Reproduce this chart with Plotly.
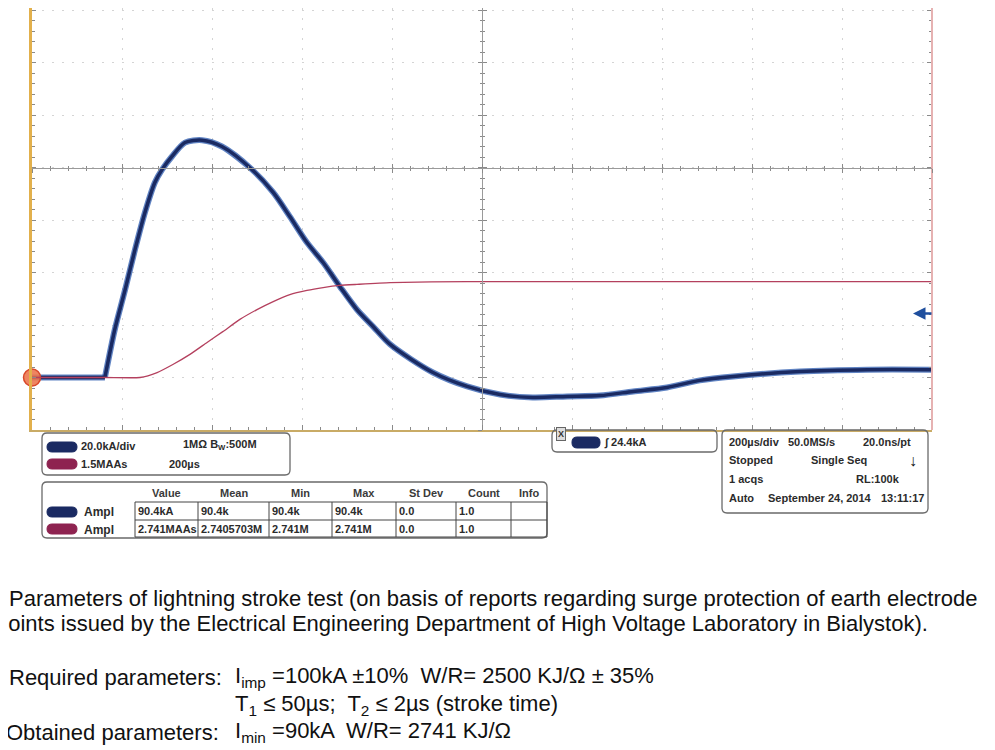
import plotly.graph_objects as go

# current trace (channel 1): time in us, current in kA
time_us = [0, 162, 184, 207, 229, 251, 273, 289, 311, 340, 378, 422, 489, 536, 573, 611,
           647, 684, 722, 758, 796, 891, 967, 1040, 1113, 1189, 1262, 1336, 1411, 1484,
           1558, 1707, 1856, 2000]
current_kA = [0, 0, 18.3, 33.5, 48.8, 62.9, 74.3, 79.2, 84.2, 89.5, 90.4, 88.0, 79.2, 70.5, 61.3, 51.4,
              43.8, 34.7, 25.9, 19.4, 12.6, 1.9, -3.4, -6.5, -7.6, -7.2, -6.9, -5.3, -3.8, -1.1,
              0.4, 2.3, 3.0, 3.0]
trigger_index = 1  # the stroke starts at the second sample

# charge trace (math channel), MAAs
charge_time_us = [0, 162, 240, 278, 313, 351, 389, 424, 462, 500, 536, 573, 611, 647, 684, 722, 796, 967, 2000]
charge_MAAs = [0, 0, 0, 0.14, 0.37, 0.66, 1.0, 1.31, 1.66, 1.94, 2.17, 2.37, 2.49, 2.57, 2.63, 2.66, 2.71, 2.74, 2.741]

trigger_level_kA = 24.4
kA_per_div = 20.0
MAAs_per_div = 1.5
us_per_div = 200

# scope panel texts
channel_rows = [("20.0kA/div", "1MΩ B<sub>W</sub>:500M"), ("1.5MAAs", "200µs")]
table_headers = ["Value", "Mean", "Min", "Max", "St Dev", "Count", "Info"]
table_rows = [
    ["90.4kA", "90.4k", "90.4k", "90.4k", "0.0", "1.0", ""],
    ["2.741MAAs", "2.7405703M", "2.741M", "2.741M", "0.0", "1.0", ""],
]
timebase_lines = [
    [("200µs/div", 728), ("50.0MS/s", 787), ("20.0ns/pt", 862)],
    [("Stopped", 728), ("Single Seq", 810)],
    [("1 acqs", 728), ("RL:100k", 855)],
    [("Auto", 728), ("September 24, 2014", 767), ("13:11:17", 880)],
]

BLUE = "#1a2a62"
BLUE_FUZZ = "#2d5cb0"
RED = "#b4405e"
TXT = "#2b2b2b"

# the page body adds 8px around the figure; positions below are page pixels
OFF = 8
L, R, B, T = 32, 932, 430, OFF
PLOT_H = B - T
y_range = [-1 * kA_per_div, -1 * kA_per_div + (PLOT_H / 52.5) * kA_per_div]
y2_range = [v * MAAs_per_div / kA_per_div for v in y_range]
x_range = [0, 10 * us_per_div]


def px_x(x):
    return (x - L) / (R - L)


def px_y(y):
    return (B - y) / PLOT_H


def rounded(x0, y0, x1, y1, r):
    pts = [("M", x0 + r, y0), ("L", x1 - r, y0), ("Q", x1, y0, x1, y0 + r), ("L", x1, y1 - r),
           ("Q", x1, y1, x1 - r, y1), ("L", x0 + r, y1), ("Q", x0, y1, x0, y1 - r),
           ("L", x0, y0 + r), ("Q", x0, y0, x0 + r, y0)]
    out = ""
    for p in pts:
        cmd, vals = p[0], p[1:]
        coords = []
        for i in range(0, len(vals), 2):
            coords.append(f"{px_x(vals[i]):.5f},{px_y(vals[i + 1]):.5f}")
        out += cmd + " ".join(coords) + " "
    return out + "Z"


fig = go.Figure()

# flat part before the trigger drawn straight, the pulse itself smoothed
pre_t, pre_i = time_us[:trigger_index + 1], current_kA[:trigger_index + 1]
post_t, post_i = time_us[trigger_index:], current_kA[trigger_index:]
for xs, ys, shp in [(pre_t, pre_i, "linear"), (post_t, post_i, "spline")]:
    fig.add_trace(go.Scatter(x=xs, y=ys, mode="lines", line=dict(color=BLUE_FUZZ, width=6, shape=shp, smoothing=0.8),
                             opacity=0.75, hoverinfo="skip", showlegend=False))
for xs, ys, shp in [(pre_t, pre_i, "linear"), (post_t, post_i, "spline")]:
    fig.add_trace(go.Scatter(x=xs, y=ys, mode="lines", line=dict(color=BLUE, width=3.5, shape=shp, smoothing=0.8),
                             name="Ampl", showlegend=False))
fig.add_trace(go.Scatter(x=charge_time_us, y=charge_MAAs, mode="lines", yaxis="y2",
                         line=dict(color=RED, width=1.3, shape="spline", smoothing=0.5), showlegend=False))
# ground level marker of channel 1
fig.add_trace(go.Scatter(x=[time_us[0]], y=[current_kA[0]], mode="markers", cliponaxis=False,
                         marker=dict(size=17, color="rgba(236,120,80,0.9)", line=dict(color="#d9482a", width=1.5)),
                         showlegend=False, hoverinfo="skip"))
# dummy traces so the cross-hair axes get drawn
for xa, ya in [("x2", "y"), ("x3", "y"), ("x", "y3"), ("x", "y4"), ("x", "y5")]:
    fig.add_trace(go.Scatter(x=[None], y=[None], xaxis=xa, yaxis=ya, showlegend=False))

tick_c = "#8a8a8a"
center_pos = (4 * kA_per_div - y_range[0]) / (y_range[1] - y_range[0])

common_x = dict(range=x_range, showticklabels=False, zeroline=False, tick0=0, dtick=us_per_div)
common_y = dict(range=y_range, showticklabels=False, zeroline=False, tick0=0, dtick=kA_per_div)

fig.update_layout(
    width=995, height=750,
    margin=dict(l=L - OFF, r=995 - (R - OFF), t=0, b=750 - (B - OFF)),
    paper_bgcolor="white", plot_bgcolor="white",
    font=dict(family="Liberation Sans, Arial, sans-serif", color=TXT),
    xaxis=dict(**common_x, showgrid=True, gridcolor="#d4d4d4", griddash="2px,8px", gridwidth=1,
               ticks="inside", ticklen=5, tickcolor=tick_c, showline=True, linecolor="#c9ab66", linewidth=2,
               minor=dict(dtick=us_per_div / 5, ticks="inside", ticklen=3, tickcolor=tick_c, showgrid=False)),
    yaxis=dict(**common_y, showgrid=True, gridcolor="#d4d4d4", griddash="2px,8px", gridwidth=1,
               ticks="inside", ticklen=4, tickcolor=tick_c, showline=True, linecolor="#e2b04c", linewidth=3,
               minor=dict(dtick=kA_per_div / 5, ticks="inside", ticklen=3, tickcolor=tick_c, showgrid=False)),
    yaxis2=dict(range=y2_range, overlaying="y", visible=False),
    xaxis2=dict(**common_x, overlaying="x", anchor="free", position=center_pos, side="bottom", showgrid=False,
                ticks="outside", ticklen=4, tickcolor=tick_c, showline=True, linecolor="#9a9a9a", linewidth=1,
                minor=dict(dtick=us_per_div / 5, ticks="outside", ticklen=2, tickcolor=tick_c)),
    xaxis3=dict(**common_x, overlaying="x", anchor="free", position=center_pos, side="bottom", showgrid=False,
                ticks="inside", ticklen=4, tickcolor=tick_c, showline=False,
                minor=dict(dtick=us_per_div / 5, ticks="inside", ticklen=2, tickcolor=tick_c)),
    yaxis3=dict(**common_y, overlaying="y", anchor="free", position=0.5, side="left", showgrid=False,
                ticks="outside", ticklen=4, tickcolor=tick_c, showline=True, linecolor="#9a9a9a", linewidth=1,
                minor=dict(dtick=kA_per_div / 5, ticks="outside", ticklen=2, tickcolor=tick_c)),
    yaxis4=dict(**common_y, overlaying="y", anchor="free", position=0.5, side="left", showgrid=False,
                ticks="inside", ticklen=4, tickcolor=tick_c, showline=False,
                minor=dict(dtick=kA_per_div / 5, ticks="inside", ticklen=2, tickcolor=tick_c)),
    yaxis5=dict(**common_y, overlaying="y", anchor="free", position=1, side="right", showgrid=False,
                ticks="inside", ticklen=4, tickcolor=tick_c, showline=True, linecolor="#e6b2b2", linewidth=2,
                minor=dict(dtick=kA_per_div / 5, ticks="inside", ticklen=2, tickcolor=tick_c)),
)

shapes = []
ann = []


def text(x, y, s, size=11, anchor="left", color=TXT, bold=True, family=None):
    ann.append(dict(x=px_x(x), y=px_y(y), xref="paper", yref="paper", text=f"<b>{s}</b>" if bold else s,
                    showarrow=False, xanchor=anchor, yanchor="middle",
                    font=dict(size=size, color=color, family=family or "Liberation Sans, Arial"), borderpad=0))


def pill(x0, y0, x1, y1, color):
    shapes.append(dict(type="path", path=rounded(x0, y0, x1, y1, 5), xref="paper", yref="paper",
                       fillcolor=color, line=dict(color=color, width=1), layer="above"))


def box(x0, y0, x1, y1):
    shapes.append(dict(type="path", path=rounded(x0, y0, x1, y1, 5), xref="paper", yref="paper",
                       line=dict(color="#6a6a6a", width=1.3)))


# channel box
box(42, 433, 290, 475)
pill(47, 442, 77, 452, BLUE)
pill(47, 459, 77, 469, "#8e2350")
text(80, 446, channel_rows[0][0])
text(182, 445, channel_rows[0][1])
text(80, 464, channel_rows[1][0])
text(168, 464, channel_rows[1][1])

# measurement table
box(42, 482, 547, 538)
col_x = [135, 198, 269, 332, 396, 456, 511, 547]
row_y = [502, 520, 537]
for i, h in enumerate(table_headers):
    text((col_x[i] + col_x[i + 1]) / 2, 493, h, anchor="center", color="#3a3a3a")
for yv in row_y:
    shapes.append(dict(type="line", xref="paper", yref="paper", x0=px_x(col_x[0]), x1=px_x(col_x[-1]),
                       y0=px_y(yv), y1=px_y(yv), line=dict(color="#444", width=1)))
for xv in col_x:
    shapes.append(dict(type="line", xref="paper", yref="paper", x0=px_x(xv), x1=px_x(xv),
                       y0=px_y(row_y[0]), y1=px_y(row_y[-1]), line=dict(color="#444", width=1)))
pill(47, 507, 77, 517, BLUE)
pill(47, 524, 77, 534, "#8e2350")
for r, row in enumerate(table_rows):
    yc = (row_y[r] + row_y[r + 1]) / 2
    text(83, yc + 1, "Ampl", size=12)
    for c, v in enumerate(row):
        if v:
            text(col_x[c] + 2, yc, v, size=11)

# trigger box
box(552, 430, 717, 452)
ann.append(dict(x=px_x(561), y=px_y(441), xref="paper", yref="paper", text="<b>X</b>", showarrow=False,
                font=dict(size=9, color="#333"), bordercolor="#666", borderwidth=1, borderpad=1, bgcolor="#ddd"))
pill(572, 437, 600, 448, BLUE)
text(603, 442, f"∫ {trigger_level_kA}kA")

# timebase box
box(722, 430, 928, 513)
for line, yv in zip(timebase_lines, [442, 460, 479, 498]):
    for s, xv in line:
        text(xv, yv, s)
text(913, 460, "↓", size=16, anchor="center", color="#111")

# trigger level arrow on the right edge
ann.append(dict(x=px_x(913), y=trigger_level_kA, xref="paper", yref="y", ax=20, ay=0, text="", showarrow=True,
                arrowhead=2, arrowsize=1, arrowwidth=2.5, arrowcolor="#1f4f9e"))

# report text below the screenshot
F = "Liberation Sans, Arial, sans-serif"
body = dict(size=22, bold=False, color="#111", family=F)
text(8, 598, "Parameters of lightning stroke test (on basis of reports regarding surge protection of earth electrode", **body)
text(-5, 623, "points issued by the Electrical Engineering Department of High Voltage Laboratory in Bialystok).", **body)
text(8, 677, "Required parameters:", **body)
text(234, 677, "I<sub>imp</sub> =100kA ±10%  W/R= 2500 KJ/Ω ± 35%", **body)
text(234, 705, "T<sub>1</sub> ≤ 50µs;  T<sub>2</sub> ≤ 2µs (stroke time)", **body)
text(5, 732, "Obtained parameters:", **body)
text(234, 732, "I<sub>min</sub> =90kA  W/R= 2741 KJ/Ω", **body)

fig.update_layout(shapes=shapes, annotations=ann)
fig.write_html("out.html")
